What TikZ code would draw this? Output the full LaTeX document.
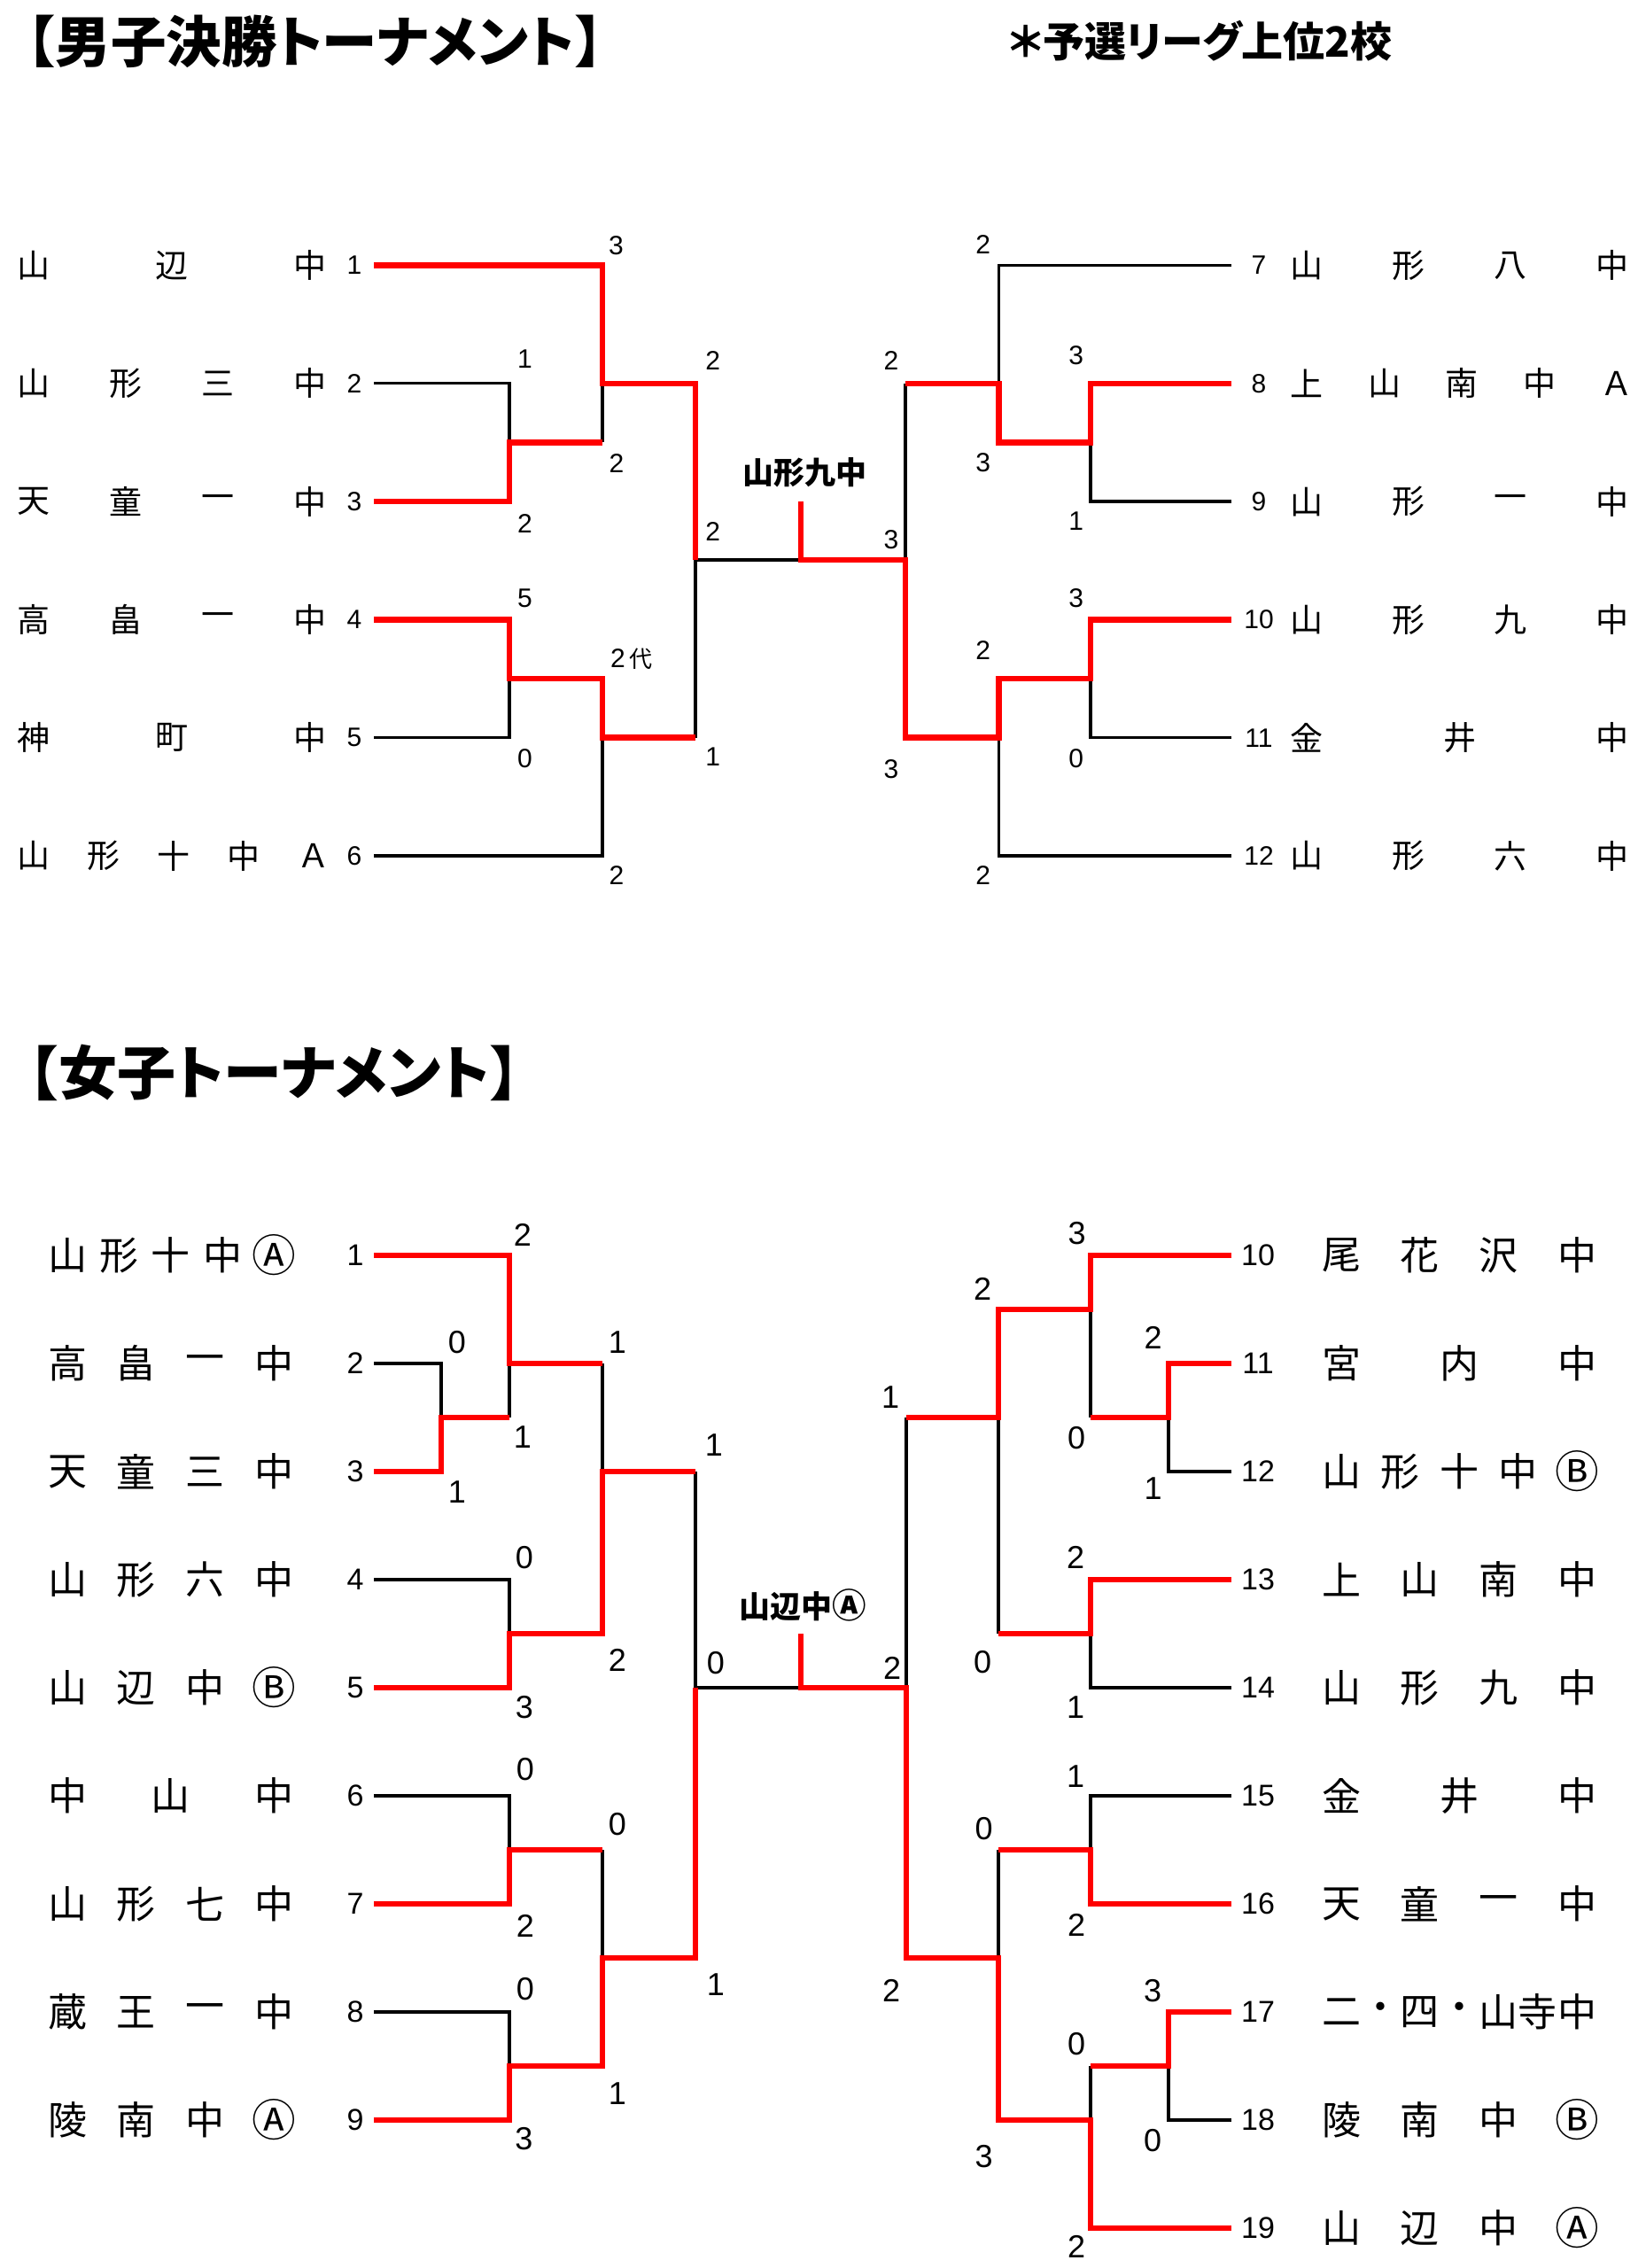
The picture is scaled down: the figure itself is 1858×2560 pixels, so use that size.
\documentclass[tikz,border=0pt]{standalone}
\usepackage{fontspec}
\newfontfamily\jp{Noto Sans CJK JP}
\newfontfamily\jpp[RawFeature=+palt]{Noto Sans CJK JP}
\newfontfamily\numf{Liberation Sans}
\definecolor{bred}{RGB}{255,0,0}
\newcommand\ca{\scalebox{1.13}{Ⓐ}}
\newcommand\cb{\scalebox{1.13}{Ⓑ}}
\tikzset{
 lose/.style={draw=black,line width=3.3pt},
 win/.style={draw=bred,line width=6.5pt},
 txt/.style={inner sep=0pt,outer sep=0pt,anchor=center},
 mname/.style={txt,font=\jp\fontsize{37}{40}\selectfont},
 wname/.style={txt,font=\jp\fontsize{44}{48}\selectfont},
 mnum/.style={txt,font=\numf\fontsize{30}{32}\selectfont},
 msc/.style={txt,font=\numf\fontsize{30}{32}\selectfont},
 wnum/.style={txt,font=\numf\fontsize{34}{36}\selectfont},
 wsc/.style={txt,font=\numf\fontsize{36}{38}\selectfont},
 ttl/.style={inner sep=0pt,outer sep=0pt,anchor=west},
 mt/.style={ttl,font=\jp\bfseries\fontsize{62.5}{66}\selectfont},
 mtp/.style={ttl,font=\jpp\bfseries\fontsize{62.5}{66}\selectfont},
 wt/.style={ttl,font=\jp\bfseries\fontsize{66}{70}\selectfont},
 wtp/.style={ttl,font=\jpp\bfseries\fontsize{66}{70}\selectfont},
 ctr/.style={txt,font=\jp\bfseries\fontsize{35}{38}\selectfont},
}
% #1 id, #2 y, #3 left centre, #4 right centre, #5 count, #6 style, #7 chars
\newcommand\tname[7]{%
 \foreach \ch [count=\k from 0] in {#7}{%
  \node[#6] (#1-\k) at ({#3+\k*(#4-#3)/(#5-1)},#2) {\ch};}}
\begin{document}
\begin{tikzpicture}[x=1pt,y=-1pt]
\path[use as bounding box,fill=white] (0,0) rectangle (1858,2560);

% ---------- titles ----------
\node[mt] (t1a) at (0,47) {【};
\node[mtp] (t1b) at (t1a.east) {男子決勝トーナメント};
\node[mt] (t1c) at (t1b.east) {】};
\node[txt,font=\jpp\bfseries\fontsize{47}{50}\selectfont] (t2) at (1355,46) {＊予選リーグ上位2校};
\node[wt] (t3a) at (0,1211) {【};
\node[wtp] (t3b) at (t3a.east) {女子トーナメント};
\node[wt] (t3c) at (t3b.east) {】};

% ---------- men: lines ----------
\draw[lose] (422,432.8) -- (575,432.8) -- (575,499.4);
\draw[lose] (680,432.8) -- (680,499.4);
\draw[lose] (422,832.7) -- (575,832.7) -- (575,766);
\draw[lose] (422,966) -- (680,966) -- (680,832.7);
\draw[lose] (785,832.7) -- (785,632) -- (904,632);
\draw[lose] (1390,299.5) -- (1127.5,299.5) -- (1127.5,432.8);
\draw[lose] (1022,432.8) -- (1022,632);
\draw[lose] (1390,566.1) -- (1231,566.1) -- (1231,499.4);
\draw[lose] (1390,832.7) -- (1231,832.7) -- (1231,766);
\draw[lose] (1390,966) -- (1127.5,966) -- (1127.5,832.7);
\draw[win] (422,299.5) -- (680,299.5) -- (680,432.8) -- (785,432.8) -- (785,632);
\draw[win] (422,566.1) -- (575,566.1) -- (575,499.4) -- (680,499.4);
\draw[win] (422,699.4) -- (575,699.4) -- (575,766) -- (680,766) -- (680,832.7) -- (785,832.7);
\draw[win] (904,566.1) -- (904,632) -- (1022,632) -- (1022,832.7) -- (1127.5,832.7) -- (1127.5,766) -- (1231,766) -- (1231,699.4) -- (1390,699.4);
\draw[win] (1022,432.8) -- (1127.5,432.8) -- (1127.5,499.4) -- (1231,499.4) -- (1231,432.8) -- (1390,432.8);

% ---------- men: names ----------
\tname{ml1}{299.5}{38}{350}{3}{mname}{山,辺,中}
\tname{ml2}{432.8}{38}{350}{4}{mname}{山,形,三,中}
\tname{ml3}{566.1}{38}{350}{4}{mname}{天,童,一,中}
\tname{ml4}{699.4}{38}{350}{4}{mname}{高,畠,一,中}
\tname{ml5}{832.7}{38}{350}{3}{mname}{神,町,中}
\tname{ml6}{966}{38}{354}{5}{mname}{山,形,十,中,Ａ}
\tname{mr7}{299.5}{1475}{1820}{4}{mname}{山,形,八,中}
\tname{mr8}{432.8}{1475}{1825}{5}{mname}{上,山,南,中,Ａ}
\tname{mr9}{566.1}{1475}{1820}{4}{mname}{山,形,一,中}
\tname{mr10}{699.4}{1475}{1820}{4}{mname}{山,形,九,中}
\tname{mr11}{832.7}{1475}{1820}{3}{mname}{金,井,中}
\tname{mr12}{966}{1475}{1820}{4}{mname}{山,形,六,中}
\foreach \n/\y in {1/299.5,2/432.8,3/566.1,4/699.4,5/832.7,6/966}
  \node[mnum] (mn\n) at (400,\y) {\n};
\foreach \n/\y in {7/299.5,8/432.8,9/566.1,10/699.4,11/832.7,12/966}
  \node[mnum] (mn\n) at (1421,\y) {\n};

% ---------- men: scores ----------
\node[msc] (ms1) at (695.5,277) {3};
\node[msc] (ms2) at (592.5,405.5) {1};
\node[msc] (ms3) at (592.5,590.7) {2};
\node[msc] (ms4) at (696,522.6) {2};
\node[msc] (ms5) at (804.6,407) {2};
\node[msc] (ms6) at (804.6,600) {2};
\node[msc] (ms7) at (592.5,675) {5};
\node[msc] (ms8) at (592.5,856) {0};
\node[msc] (ms9) at (697.5,743) {2};
\node[txt,font=\jp\fontsize{26}{28}\selectfont] (ms9b) at (723,744) {代};
\node[msc] (ms10) at (804.6,854.5) {1};
\node[msc] (ms11) at (696,987.7) {2};
\node[msc] (ms12) at (1109.7,275.7) {2};
\node[msc] (ms13) at (1006,407) {2};
\node[msc] (ms14) at (1214.6,401) {3};
\node[msc] (ms15) at (1109.7,522.6) {3};
\node[msc] (ms16) at (1214.6,588) {1};
\node[msc] (ms17) at (1006,609) {3};
\node[msc] (ms18) at (1214.6,675) {3};
\node[msc] (ms19) at (1109.7,734.5) {2};
\node[msc] (ms20) at (1214.6,856) {0};
\node[msc] (ms21) at (1006,868) {3};
\node[msc] (ms22) at (1109.7,987.7) {2};
\node[ctr] (mwin) at (908,533) {山形九中};

% ---------- women: lines ----------
\draw[lose] (422,1539) -- (498,1539) -- (498,1600);
\draw[lose] (575,1539) -- (575,1600);
\draw[lose] (680,1539) -- (680,1661);
\draw[lose] (422,1783) -- (575,1783) -- (575,1844);
\draw[lose] (785,1661) -- (785,1905) -- (904,1905);
\draw[lose] (422,2027) -- (575,2027) -- (575,2088);
\draw[lose] (422,2271) -- (575,2271) -- (575,2332);
\draw[lose] (680,2088) -- (680,2210);
\draw[lose] (1231,1478) -- (1231,1600);
\draw[lose] (1390,1661) -- (1319,1661) -- (1319,1600);
\draw[lose] (1127,1600) -- (1127,1844);
\draw[lose] (1390,1905) -- (1231,1905) -- (1231,1844);
\draw[lose] (1023,1600) -- (1023,1905);
\draw[lose] (1390,2027) -- (1231,2027) -- (1231,2088);
\draw[lose] (1127,2088) -- (1127,2210);
\draw[lose] (1231,2332) -- (1231,2393);
\draw[lose] (1390,2393) -- (1319,2393) -- (1319,2332);
\draw[win] (422,1417) -- (575,1417) -- (575,1539) -- (680,1539);
\draw[win] (422,1661) -- (498,1661) -- (498,1600) -- (575,1600);
\draw[win] (422,1905) -- (575,1905) -- (575,1844) -- (680,1844) -- (680,1661) -- (785,1661);
\draw[win] (422,2149) -- (575,2149) -- (575,2088) -- (680,2088);
\draw[win] (422,2393) -- (575,2393) -- (575,2332) -- (680,2332) -- (680,2210) -- (785,2210) -- (785,1905);
\draw[win] (904,1844) -- (904,1905) -- (1023,1905) -- (1023,2210) -- (1127,2210) -- (1127,2393) -- (1231,2393) -- (1231,2515) -- (1390,2515);
\draw[win] (1390,1417) -- (1231,1417) -- (1231,1478) -- (1127,1478) -- (1127,1600) -- (1023,1600);
\draw[win] (1390,1539) -- (1319,1539) -- (1319,1600) -- (1231,1600);
\draw[win] (1390,1783) -- (1231,1783) -- (1231,1844) -- (1127,1844);
\draw[win] (1390,2149) -- (1231,2149) -- (1231,2088) -- (1127,2088);
\draw[win] (1390,2271) -- (1319,2271) -- (1319,2332) -- (1231,2332);

% ---------- women: names ----------
\tname{wl1}{1417}{76}{309.5}{5}{wname}{山,形,十,中,\ca}
\tname{wl2}{1539}{76}{309.5}{4}{wname}{高,畠,一,中}
\tname{wl3}{1661}{76}{309.5}{4}{wname}{天,童,三,中}
\tname{wl4}{1783}{76}{309.5}{4}{wname}{山,形,六,中}
\tname{wl5}{1905}{76}{309.5}{4}{wname}{山,辺,中,\cb}
\tname{wl6}{2027}{76}{309.5}{3}{wname}{中,山,中}
\tname{wl7}{2149}{76}{309.5}{4}{wname}{山,形,七,中}
\tname{wl8}{2271}{76}{309.5}{4}{wname}{蔵,王,一,中}
\tname{wl9}{2393}{76}{309.5}{4}{wname}{陵,南,中,\ca}
\tname{wr10}{1417}{1514}{1780}{4}{wname}{尾,花,沢,中}
\tname{wr11}{1539}{1514}{1780}{3}{wname}{宮,内,中}
\tname{wr12}{1661}{1514}{1780}{5}{wname}{山,形,十,中,\cb}
\tname{wr13}{1783}{1514}{1780}{4}{wname}{上,山,南,中}
\tname{wr14}{1905}{1514}{1780}{4}{wname}{山,形,九,中}
\tname{wr15}{2027}{1514}{1780}{3}{wname}{金,井,中}
\tname{wr16}{2149}{1514}{1780}{4}{wname}{天,童,一,中}
\tname{wr17}{2271}{1514}{1780}{7}{wname}{二,・,四,・,山,寺,中}
\tname{wr18}{2393}{1514}{1780}{4}{wname}{陵,南,中,\cb}
\tname{wr19}{2515}{1514}{1780}{4}{wname}{山,辺,中,\ca}
\foreach \n/\y in {1/1417,2/1539,3/1661,4/1783,5/1905,6/2027,7/2149,8/2271,9/2393}
  \node[wnum] (wn\n) at (401,\y) {\n};
\foreach \n/\y in {10/1417,11/1539,12/1661,13/1783,14/1905,15/2027,16/2149,17/2271,18/2393,19/2515}
  \node[wnum] (wn\n) at (1420,\y) {\n};

% ---------- women: scores ----------
\node[wsc] (ws1) at (590,1393.5) {2};
\node[wsc] (ws2) at (516,1515) {0};
\node[wsc] (ws3) at (516,1684) {1};
\node[wsc] (ws4) at (590,1622) {1};
\node[wsc] (ws5) at (697,1515) {1};
\node[wsc] (ws6) at (592,1758) {0};
\node[wsc] (ws7) at (592,1927) {3};
\node[wsc] (ws8) at (697,1874) {2};
\node[wsc] (ws9) at (806,1631) {1};
\node[wsc] (ws10) at (808,1877) {0};
\node[wsc] (ws11) at (593,1997) {0};
\node[wsc] (ws12) at (593,2174) {2};
\node[wsc] (ws13) at (697,2059) {0};
\node[wsc] (ws14) at (593,2245) {0};
\node[wsc] (ws15) at (591.5,2413.6) {3};
\node[wsc] (ws16) at (697,2363) {1};
\node[wsc] (ws17) at (808,2240) {1};
\node[wsc] (ws18) at (1007,1883) {2};
\node[wsc] (ws19) at (1005,1577) {1};
\node[wsc] (ws20) at (1109,1454.6) {2};
\node[wsc] (ws21) at (1109,1875.6) {0};
\node[wsc] (ws22) at (1215.6,1392) {3};
\node[wsc] (ws23) at (1215,1623) {0};
\node[wsc] (ws24) at (1301.7,1510) {2};
\node[wsc] (ws25) at (1301.7,1680) {1};
\node[wsc] (ws26) at (1214,1758) {2};
\node[wsc] (ws27) at (1214,1927) {1};
\node[wsc] (ws28) at (1214,2005) {1};
\node[wsc] (ws29) at (1215,2173) {2};
\node[wsc] (ws30) at (1110.7,2064) {0};
\node[wsc] (ws31) at (1006,2247) {2};
\node[wsc] (ws32) at (1110.7,2434) {3};
\node[wsc] (ws33) at (1215,2307.5) {0};
\node[wsc] (ws34) at (1215,2536) {2};
\node[wsc] (ws35) at (1301,2247) {3};
\node[wsc] (ws36) at (1301,2416) {0};
\node[ctr] (wwin) at (906,1812) {山辺中\scalebox{1.1}{Ⓐ}};
\end{tikzpicture}
\end{document}
